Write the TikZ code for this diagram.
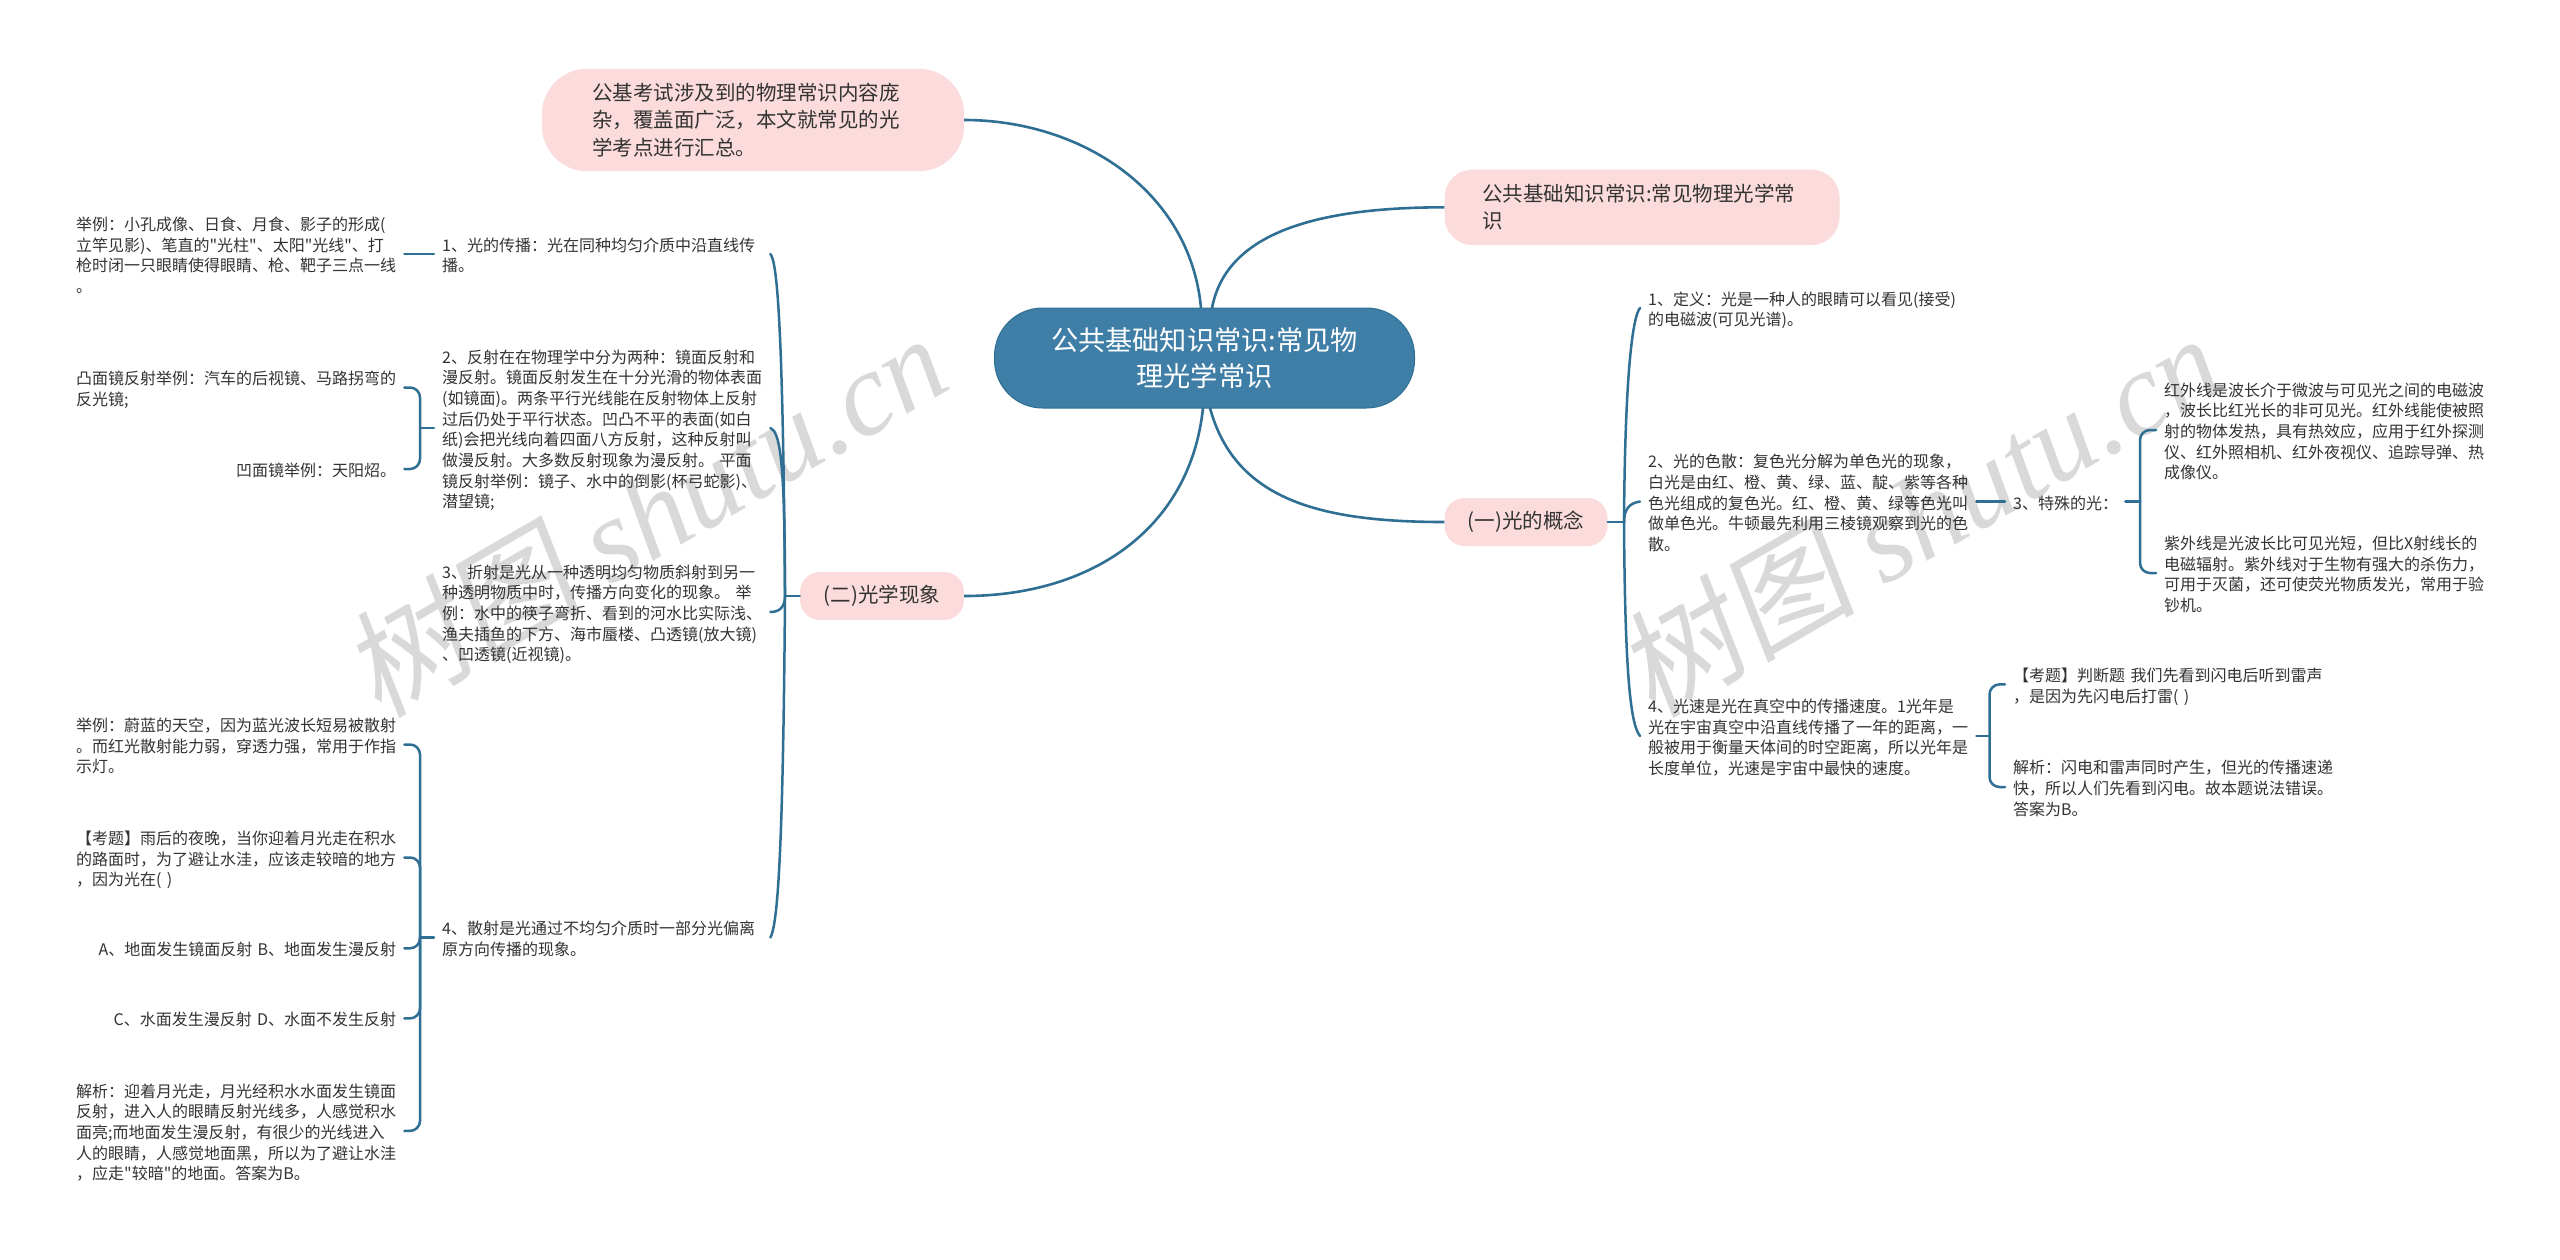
\documentclass[tikz,border=0pt]{standalone}
\usepackage{fontspec}
\setmainfont{Noto Sans CJK SC}
\newfontfamily\txtf{Noto Sans CJK SC}
\newfontfamily\wmcjk[FakeSlant=0.15]{Noto Sans CJK SC}
\newfontfamily\wmlat{Liberation Serif}
\definecolor{linec}{HTML}{2F6F94}
\definecolor{rootc}{HTML}{3F7EA6}
\definecolor{pinkc}{HTML}{FBDBDB}
\definecolor{textc}{HTML}{333333}
\definecolor{wmc}{HTML}{D9D9D9}
\tikzset{
 x=1pt,y=-1pt,
 con/.style={draw=linec,line width=2.5pt,line cap=round},
 thick con/.style={draw=linec,line width=2.6pt},
 leaf/.style={text=textc,font=\txtf\fontsize{16}{20.7}\selectfont,text width=320pt,inner xsep=8pt,inner ysep=0pt,align=left,anchor=west,execute at begin node={\rule{0pt}{19pt}},execute at end node={\rule[-4pt]{0pt}{1pt}}},
 leafr/.style={leaf,align=right},
 short/.style={leaf,text width=104pt},
 pink/.style={fill=pinkc,text=textc,font=\txtf\fontsize{20.5}{27.3}\selectfont,inner ysep=0pt},
 rootbox/.style={fill=rootc,draw=linec,line width=1pt,text=white,font=\txtf\fontsize{27.2}{35.7}\selectfont,align=center,rounded corners=48pt,minimum width=420pt,minimum height=100pt,inner sep=0pt},
 wm/.style={text=wmc,rotate=30,inner sep=0pt,font=\fontsize{119}{119}\selectfont},
}
\begin{document}
\begin{tikzpicture}
\path[use as bounding box,fill=white] (0,0) rectangle (2560,1259);
% watermarks
\node[wm] (wma) at (645,514) {{\wmcjk 树图} {\wmlat\itshape shutu.cn}};
\node[wm] (wmb) at (1919,514) {{\wmcjk 树图} {\wmlat\itshape shutu.cn}};
% main nodes
\node[rootbox] (root) at (1204.5,358) {公共基础知识常识:常见物\\理光学常识};
\node[pink,rounded corners=45pt,text width=322pt,inner xsep=50pt,minimum height=102.4pt,align=left] (tl) at (753,120) {公基考试涉及到的物理常识内容庞\\杂，覆盖面广泛，本文就常见的光\\学考点进行汇总。};
\node[pink,rounded corners=28pt,text width=320pt,inner xsep=37.5pt,minimum height=75.4pt,align=left] (tr) at (1642,207.3) {公共基础知识常识:常见物理光学常\\识};
\node[pink,rounded corners=20pt,minimum width=163pt,minimum height=48pt,inner xsep=0pt] (gn) at (1526,522) {(一)光的概念};
\node[pink,rounded corners=20pt,minimum width=164pt,minimum height=48pt,inner xsep=0pt] (gx) at (882,596) {(二)光学现象};
% optics phenomena column
\node[leaf] (n1) at (434,254) {1、光的传播：光在同种均匀介质中沿直线传\\播。};
\node[leaf] (n2) at (434,428) {2、反射在在物理学中分为两种：镜面反射和\\漫反射。镜面反射发生在十分光滑的物体表面\\(如镜面)。两条平行光线能在反射物体上反射\\过后仍处于平行状态。凹凸不平的表面(如白\\纸)会把光线向着四面八方反射，这种反射叫\\做漫反射。大多数反射现象为漫反射。 平面\\镜反射举例：镜子、水中的倒影(杯弓蛇影)、\\潜望镜;};
\node[leaf] (n3) at (434,612) {3、折射是光从一种透明均匀物质斜射到另一\\种透明物质中时，传播方向变化的现象。 举\\例：水中的筷子弯折、看到的河水比实际浅、\\渔夫插鱼的下方、海市蜃楼、凸透镜(放大镜)\\、凹透镜(近视镜)。};
\node[leaf] (n4) at (434,937.5) {4、散射是光通过不均匀介质时一部分光偏离\\原方向传播的现象。};
% far-left column
\node[leaf] (a1) at (68,254) {举例：小孔成像、日食、月食、影子的形成(\\立竿见影)、笔直的"光柱"、太阳"光线"、打\\枪时闭一只眼睛使得眼睛、枪、靶子三点一线\\。};
\node[leaf] (b1) at (68,387.5) {凸面镜反射举例：汽车的后视镜、马路拐弯的\\反光镜;};
\node[leafr] (b2) at (68,469) {凹面镜举例：天阳炤。};
\node[leaf] (c1) at (68,744.5) {举例：蔚蓝的天空，因为蓝光波长短易被散射\\。而红光散射能力弱，穿透力强，常用于作指\\示灯。};
\node[leaf] (c2) at (68,857.5) {【考题】雨后的夜晚，当你迎着月光走在积水\\的路面时，为了避让水洼，应该走较暗的地方\\，因为光在( )};
\node[leafr] (c3) at (68,948.3) {A、地面发生镜面反射 B、地面发生漫反射};
\node[leafr] (c4) at (68,1018.4) {C、水面发生漫反射 D、水面不发生反射};
\node[leaf] (c5) at (68,1130.9) {解析：迎着月光走，月光经积水水面发生镜面\\反射，进入人的眼睛反射光线多，人感觉积水\\面亮;而地面发生漫反射，有很少的光线进入\\人的眼睛，人感觉地面黑，所以为了避让水洼\\，应走"较暗"的地面。答案为B。};
% right columns
\node[leaf] (r1) at (1640,308) {1、定义：光是一种人的眼睛可以看见(接受)\\的电磁波(可见光谱)。};
\node[leaf] (r2) at (1640,501.5) {2、光的色散：复色光分解为单色光的现象，\\白光是由红、橙、黄、绿、蓝、靛、紫等各种\\色光组成的复色光。红、橙、黄、绿等色光叫\\做单色光。牛顿最先利用三棱镜观察到光的色\\散。};
\node[leaf] (r4) at (1640,736) {4、光速是光在真空中的传播速度。1光年是\\光在宇宙真空中沿直线传播了一年的距离，一\\般被用于衡量天体间的时空距离，所以光年是\\长度单位，光速是宇宙中最快的速度。};
\node[short] (s3) at (2005,501.5) {3、特殊的光：};
\node[leaf] (ir) at (2156,430) {红外线是波长介于微波与可见光之间的电磁波\\，波长比红光长的非可见光。红外线能使被照\\射的物体发热，具有热效应，应用于红外探测\\仪、红外照相机、红外夜视仪、追踪导弹、热\\成像仪。};
\node[leaf] (uv) at (2156,573) {紫外线是光波长比可见光短，但比X射线长的\\电磁辐射。紫外线对于生物有强大的杀伤力，\\可用于灭菌，还可使荧光物质发光，常用于验\\钞机。};
\node[leaf] (q) at (2005,684.4) {【考题】判断题 我们先看到闪电后听到雷声\\，是因为先闪电后打雷( )};
\node[leaf] (an) at (2005,787) {解析：闪电和雷声同时产生，但光的传播速递\\快，所以人们先看到闪电。故本题说法错误。\\答案为B。};
% root edges
\coordinate (ra) at (1201,308);
\coordinate (rb) at (1212,308);
\coordinate (rc) at (1210,408);
\coordinate (rd) at (1203,408);
\draw[thick con] (tl.east) .. controls +(116,0) and (1190,190) .. (ra);
\draw[thick con] (tr.west) .. controls +(-144,0) and (1225,240) .. (rb);
\draw[thick con] (gn.west) .. controls +(-124,0) and (1235,500) .. (rc);
\draw[thick con] (gx.east) .. controls +(126,0) and (1190,530) .. (rd);
% left hub
\coordinate (hx) at (785,596);
\draw[con] (gx.west) -- (hx);
\draw[con] (n1.east) .. controls +(7,8) and (783,330) .. (hx);
\draw[con] (n2.east) .. controls +(9,4) and (785,455) .. (hx);
\draw[con] (n3.east) .. controls +(10,0) and (785,606) .. (hx);
\draw[con] (n4.east) .. controls +(7,-13) and (783,860) .. (hx);
% right hub
\coordinate (hn) at (1624,522);
\draw[con] (gn.east) -- (hn);
\draw[con] (r1.west) .. controls +(-7,8) and (1625,370) .. (hn);
\draw[con] (r2.west) .. controls +(-11,1.5) and (1624,510) .. (hn);
\draw[con] (r4.west) .. controls +(-9,-11) and (1625,680) .. (hn);
% brackets
\draw[con] (n1.west) -- (a1.east);
\coordinate (h2) at (420,428);
\draw[con] (n2.west) -- (h2);
\draw[con,rounded corners=10pt] (b1.east) -| (h2);
\draw[con,rounded corners=10pt] (b2.east) -| (h2);
\coordinate (h4) at (420,937.5);
\draw[con] (n4.west) -- (h4);
\foreach \c in {c1,c2,c3,c4,c5} \draw[con,rounded corners=10pt] (\c.east) -| (h4);
\coordinate (h3) at (2140,501.5);
\draw[con] (s3.east) -- (h3);
\draw[con,rounded corners=10pt] (ir.west) -| (h3);
\draw[con,rounded corners=10pt] (uv.west) -| (h3);
\draw[con] (r2.east) -- (s3.west);
\coordinate (h5) at (1989.5,736);
\draw[con] (r4.east) -- (h5);
\draw[con,rounded corners=10pt] (q.west) -| (h5);
\draw[con,rounded corners=10pt] (an.west) -| (h5);
\end{tikzpicture}
\end{document}
